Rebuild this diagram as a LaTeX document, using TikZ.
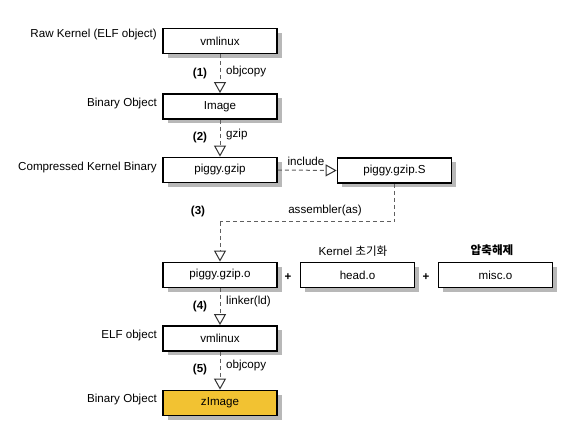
\documentclass[tikz,border=0pt]{standalone}
\usepackage{fontspec}
\setmainfont{Liberation Sans}
\newfontfamily\krfont{Noto Sans CJK KR}
\usetikzlibrary{arrows.meta,shadows}
\definecolor{zgold}{RGB}{242,194,50}
\definecolor{lnk}{RGB}{95,95,95}
\begin{document}
\begin{tikzpicture}[x=1pt,y=-1pt,
  every node/.style={font=\fontsize{11.6}{13}\selectfont, inner sep=0pt},
  box/.style={draw=black, line width=1.8pt, fill=white, minimum width=114pt, minimum height=25pt,
    drop shadow={shadow xshift=4.5pt, shadow yshift=-4.5pt, fill=black!28, opacity=1}},
  side/.style={anchor=east},
  stepno/.style={font=\fontsize{11.6}{13}\selectfont\bfseries},
  tool/.style={anchor=west},
  flow/.style={draw=lnk, line width=1pt, dash pattern=on 4pt off 3pt,
    -{Triangle[open, width=12pt, length=11pt, line width=1pt, sep=0pt, color=black!80]}, shorten >=0pt},
  flowplain/.style={draw=lnk, line width=1pt, dash pattern=on 4pt off 3pt}
]
\useasboundingbox (0,0) rectangle (570,435);

% boxes
\node[box] (vm1) at (220,41) {vmlinux};
\node[box] (img) at (220,106.5) {Image};
\node[box] (pgz) at (220,170) {piggy.gzip};
\node[box] (pgs) at (394.5,170.5) {piggy.gzip.S};
\node[box] (pgo) at (220,275) {piggy.gzip.o};
\node[box] (head) at (357.5,275) {head.o};
\node[box] (misc) at (495.5,275) {misc.o};
\node[box] (vm2) at (220,338.5) {vmlinux};
\node[box, fill=zgold] (zimg) at (220,403) {zImage};

% left labels
\node[side] (l1) at (157,35) {Raw Kernel (ELF object)};
\node[side] (l2) at (157,104) {Binary Object};
\node[side] (l3) at (157,168) {Compressed Kernel Binary};
\node[side] (l4) at (157,336) {ELF object};
\node[side] (l5) at (157,400) {Binary Object};

% connectors
\draw[flow] (vm1.south) -- (img.north);
\draw[flow] (img.south) -- (pgz.north);
\draw[flow] (pgz.east) -- (pgs.west);
\coordinate (c1) at (pgs.south |- 0,222);
\coordinate (c2) at (pgo.north |- 0,222);
\draw[flowplain] (pgs.south) -- (c1) -- (c2);
\draw[flow] (c2) -- (pgo.north);
\draw[flow] (pgo.south) -- (vm2.north);
\draw[flow] (vm2.south) -- (zimg.north);

% step labels
\node[stepno] (s1) at (200,74) {(1)};
\node[tool] (t1) at (226,72) {objcopy};
\node[stepno] (s2) at (200,138) {(2)};
\node[tool] (t2) at (226,135) {gzip};
\node (t2b) at (306,161) {include};
\node[stepno] (s3) at (198,212) {(3)};
\node (t3) at (325,211) {assembler(as)};
\node[stepno] (s4) at (200,307) {(4)};
\node[tool] (t4) at (226,301) {linker(ld)};
\node[stepno] (s5) at (200,370) {(5)};
\node[tool] (t5) at (226,366) {objcopy};

% plus signs and captions
\node[stepno] (p1) at (288,277) {+};
\node[stepno] (p2) at (426,277) {+};
\node (k1) at (353,251) {Kernel {\krfont 초기화}};
\node (k2) at (492,250) {\krfont\bfseries 압축해제};
\end{tikzpicture}
\end{document}
